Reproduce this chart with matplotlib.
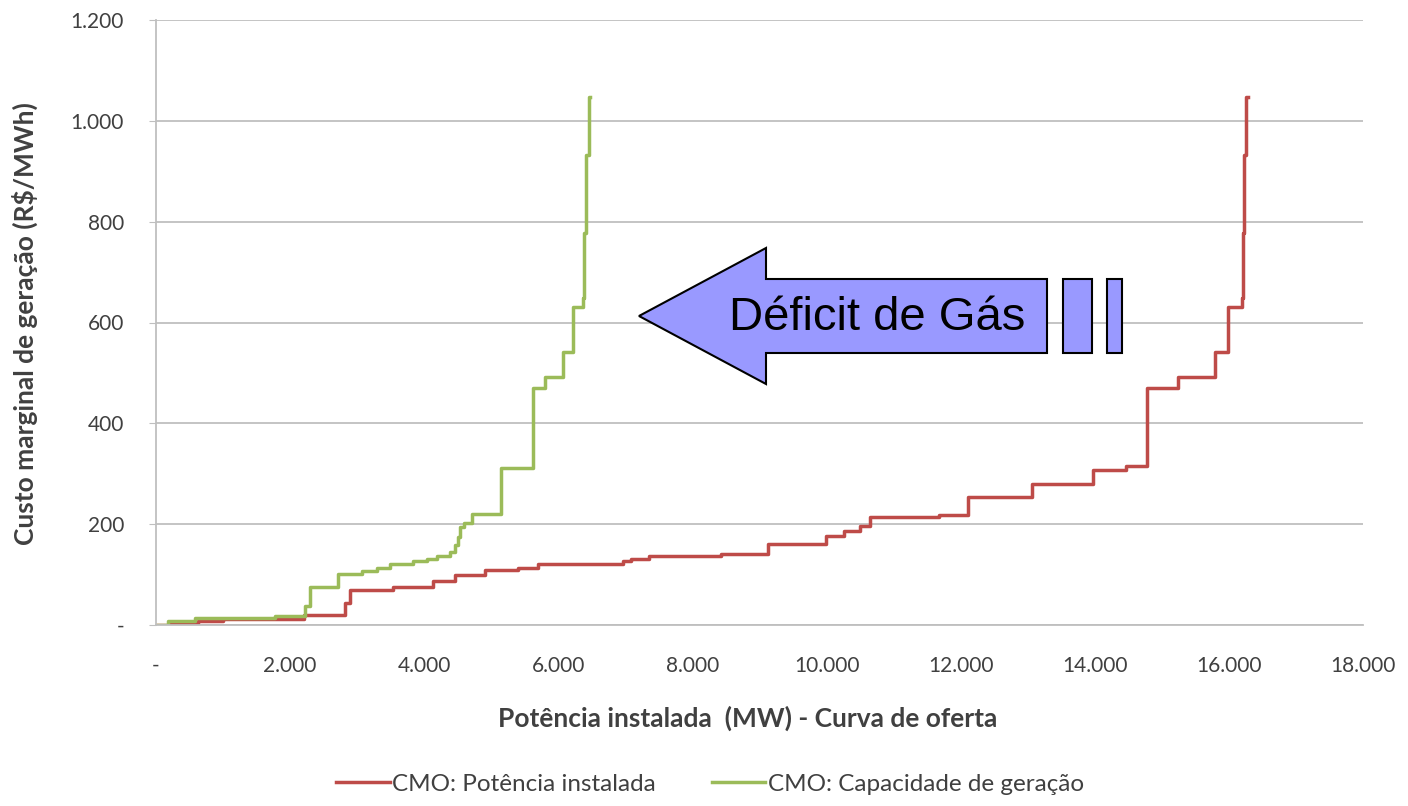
import matplotlib
matplotlib.use('Agg')
import matplotlib.pyplot as plt
from matplotlib.patches import Polygon, Rectangle
from matplotlib.ticker import FuncFormatter

W, H = 1408, 806

# step curves: x where each level starts (MW), level (R$/MWh)
red_x = [0, 190, 630, 1000, 2200, 2820, 2890, 3540, 4130, 4460, 4910, 5400, 5700,
         6960, 7090, 7350, 8420, 9120, 9990, 10260, 10500, 10650, 11670, 12110,
         13060, 13970, 14460, 14780, 15240, 15790, 15990, 16190, 16210, 16230,
         16260, 16280]
red_y = [0, 4, 8, 12, 20, 43, 69, 75, 87, 99, 109, 114, 121,
         126, 130, 137, 140, 160, 177, 187, 197, 215, 218, 253,
         279, 308, 315, 470, 492, 541, 631, 648, 777, 932,
         1047, 1047]

green_x = [0, 180, 580, 1770, 2220, 2300, 2720, 3070, 3300, 3490, 3830, 4040,
           4190, 4380, 4460, 4510, 4540, 4600, 4710, 5150, 5620, 5800, 6070,
           6220, 6370, 6390, 6420, 6450, 6470]
green_y = [0, 7, 13, 18, 38, 75, 102, 108, 114, 121, 126, 131,
           137, 145, 159, 175, 195, 203, 220, 311, 470, 492, 541,
           631, 648, 777, 932, 1047, 1047]

series_labels = ["CMO: Potência instalada", "CMO: Capacidade de geração"]
RED = "#BE4B48"
GREEN = "#9BBB59"
TXT = "#404040"
GRID = "#BFBFBF"

plt.rcParams['font.family'] = ['Lato', 'DejaVu Sans']

fig = plt.figure(figsize=(W / 100, H / 100), dpi=100)
ax = fig.add_axes([156 / W, 1 - 625 / H, (1363 - 156) / W, (625 - 20) / H])

ax.step(red_x, red_y, where='post', color=RED, lw=2.5, label=series_labels[0])
ax.step(green_x, green_y, where='post', color=GREEN, lw=2.5, label=series_labels[1])

ax.set_xlim(0, 18000)
ax.set_ylim(0, 1200)
ax.set_xticks(range(0, 18001, 2000))
ax.set_yticks(range(0, 1201, 200))


def thousands(v, pos):
    if v == 0:
        return "-"
    return f"{int(v):,}".replace(",", ".")


ax.xaxis.set_major_formatter(FuncFormatter(thousands))
ax.yaxis.set_major_formatter(FuncFormatter(thousands))
ax.tick_params(axis='x', length=0, pad=22, labelsize=15, labelcolor=TXT)
ax.tick_params(axis='y', length=5, color=GRID, pad=18, labelsize=15, labelcolor=TXT)

ax.yaxis.grid(True, color=GRID, lw=1.3)
ax.set_axisbelow(True)
for s in ['top', 'right']:
    ax.spines[s].set_visible(False)
for s in ['left', 'bottom']:
    ax.spines[s].set_color(GRID)
    ax.spines[s].set_linewidth(1.3)

fig.text(25 / W, 1 - 324 / H, "Custo marginal de geração (R$/MWh)", rotation=90,
         ha='center', va='center', fontsize=19, fontweight='bold', color=TXT)
fig.text(748 / W, 1 - 718 / H, "Potência instalada  (MW) - Curva de oferta",
         ha='center', va='center', fontsize=19, fontweight='bold', color=TXT)

fig.legend(loc='center', bbox_to_anchor=(710 / W, 1 - 784 / H), ncol=2, frameon=False,
           fontsize=17.5, handlelength=2.2, columnspacing=2.3, handletextpad=0.1,
           labelcolor=TXT)

# "Déficit de Gás" block arrow (pixel coords, y from top)
def px(pts):
    return [(x / W, 1 - y / H) for x, y in pts]

FILL = "#9999FF"
arrow = Polygon(px([(639, 316), (766, 248), (766, 279), (1047, 279), (1047, 353),
                    (766, 353), (766, 384)]), closed=True, transform=fig.transFigure,
                facecolor=FILL, edgecolor='black', lw=1.5, zorder=5)
fig.add_artist(arrow)
for x0, x1 in [(1063, 1092), (1107, 1122)]:
    r = Rectangle((x0 / W, 1 - 353 / H), (x1 - x0) / W, (353 - 279) / H,
                  transform=fig.transFigure, facecolor=FILL, edgecolor='black',
                  lw=1.5, zorder=5)
    fig.add_artist(r)
fig.text(877 / W, 1 - 318 / H, "Déficit de Gás", ha='center', va='center',
         fontsize=34, family='Liberation Sans', color='black', zorder=6)

fig.savefig("out.png", dpi=100, facecolor='white')
